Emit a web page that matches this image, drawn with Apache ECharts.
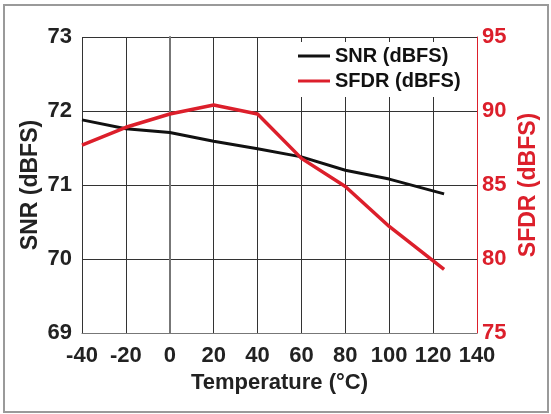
<!DOCTYPE html>
<html>
<head>
<meta charset="utf-8">
<script src="https://cdn.jsdelivr.net/npm/echarts@6/dist/echarts.min.js"></script>
<style>
    html, body { margin: 0; padding: 0; background: #fff; }
    #chart { width: 551px; height: 414px; }
</style>
</head>
<body>
<div id="chart"></div>
<script>
// temperature in degC
let temps = [-40, -20, 0, 20, 40, 60, 80, 100, 125];
let snr = [71.88, 71.76, 71.71, 71.59, 71.49, 71.38, 71.20, 71.08, 70.88];
let sfdr = [87.7, 88.9, 89.8, 90.4, 89.8, 86.8, 84.9, 82.2, 79.3];

let font = 'Liberation Sans, Arial, sans-serif';
let red = '#dc1f2b';

function pairs(xs, ys) {
    return xs.map(function(x, i) { return [x, ys[i]]; });
}

function drawChart() {
    let my_chart = echarts.init(document.getElementById('chart'));

    let option = {
        backgroundColor: '#fff',
        animation: false,
        graphic: [
            {
                type: 'rect',
                shape: { x: 4, y: 5, width: 544, height: 407 },
                style: { fill: 'none', stroke: '#9a9a9a', lineWidth: 2 },
                silent: true
            }
        ],
        grid: {
            left: 82,
            right: 74,
            top: 37,
            bottom: 81,
            show: false
        },
        legend: {
            left: 292,
            top: 42,
            orient: 'vertical',
            backgroundColor: '#fff',
            padding: [4, 8, 6, 6],
            itemGap: 5,
            icon: 'rect',
            itemWidth: 32,
            itemHeight: 3,
            textStyle: {
                fontFamily: font,
                fontWeight: 'bold',
                fontSize: 20,
                color: '#111'
            },
            data: ['SNR (dBFS)', 'SFDR (dBFS)']
        },
        xAxis: {
            type: 'value',
            min: -40,
            max: 140,
            interval: 20,
            name: 'Temperature (°C)',
            nameLocation: 'middle',
            nameGap: 36,
            nameTextStyle: {
                fontFamily: font,
                fontWeight: 'bold',
                fontSize: 22,
                color: '#222'
            },
            axisLine: { lineStyle: { color: '#777', width: 1 } },
            axisTick: { show: false },
            axisLabel: {
                margin: 12,
                fontFamily: font,
                fontWeight: 'bold',
                fontSize: 22,
                color: '#222'
            },
            splitLine: { show: true, lineStyle: { color: '#333', width: 1 } }
        },
        yAxis: [
            {
                type: 'value',
                min: 69,
                max: 73,
                interval: 1,
                position: 'left',
                name: 'SNR (dBFS)',
                nameLocation: 'middle',
                nameRotate: 90,
                nameGap: 40,
                nameMoveOverlap: false,
                nameTextStyle: {
                    fontFamily: font,
                    fontWeight: 'bold',
                    fontSize: 23,
                    color: '#222'
                },
                axisLine: { show: true, lineStyle: { color: '#777', width: 2 } },
                axisTick: { show: false },
                axisLabel: {
                    margin: 10,
                    fontFamily: font,
                    fontWeight: 'bold',
                    fontSize: 22,
                    color: '#222'
                },
                splitLine: { show: true, lineStyle: { color: '#333', width: 1 } }
            },
            {
                type: 'value',
                min: 75,
                max: 95,
                interval: 5,
                position: 'right',
                name: 'SFDR (dBFS)',
                nameLocation: 'middle',
                nameRotate: 90,
                nameGap: 38,
                nameTextStyle: {
                    fontFamily: font,
                    fontWeight: 'bold',
                    fontSize: 23,
                    color: red
                },
                axisLine: { show: true, lineStyle: { color: red, width: 1 } },
                axisTick: { show: false },
                axisLabel: {
                    margin: 5,
                    fontFamily: font,
                    fontWeight: 'bold',
                    fontSize: 22,
                    color: red
                },
                splitLine: { show: false }
            }
        ],
        series: [
            {
                name: 'SNR (dBFS)',
                type: 'line',
                yAxisIndex: 0,
                symbol: 'none',
                lineStyle: { color: '#111', width: 3 },
                itemStyle: { color: '#111' },
                data: pairs(temps, snr)
            },
            {
                name: 'SFDR (dBFS)',
                type: 'line',
                yAxisIndex: 1,
                symbol: 'none',
                lineStyle: { color: red, width: 3.5 },
                itemStyle: { color: red },
                data: pairs(temps, sfdr)
            }
        ]
    };

    my_chart.setOption(option);
}

drawChart();
</script>
</body>
</html>
